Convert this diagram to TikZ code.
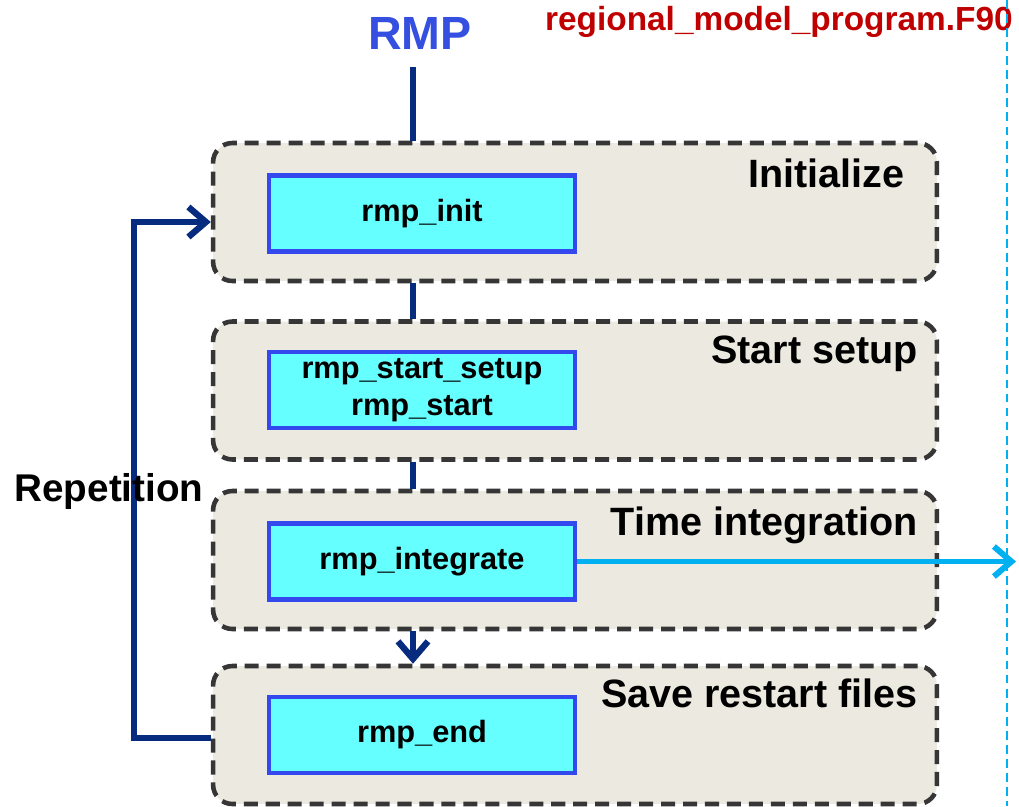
\documentclass[tikz,border=0pt]{standalone}
\usepackage{fontspec}
\setmainfont{Liberation Sans}
\usetikzlibrary{arrows.meta,positioning,calc}
\definecolor{stagefill}{HTML}{ECEAE0}
\definecolor{stageline}{HTML}{363636}
\definecolor{subfill}{HTML}{66FFFF}
\definecolor{subline}{HTML}{3349EE}
\definecolor{navyflow}{HTML}{072B7E}
\definecolor{skyflow}{HTML}{00B0F0}
\definecolor{rmpblue}{HTML}{3550E0}
\definecolor{filered}{HTML}{C00000}
\tikzset{
  stage/.style={draw=stageline, fill=stagefill, rounded corners=11pt, dash pattern=on 8pt off 4.5pt, line width=2.6pt, minimum width=14.48cm, minimum height=2.76cm},
  sub/.style={draw=subline, fill=subfill, line width=2.4pt, minimum width=6.12cm, minimum height=1.52cm, align=center, font=\bfseries\fontsize{17.5}{21}\selectfont},
  ttl/.style={font=\bfseries\fontsize{22.5}{24}\selectfont, anchor=north east, inner sep=0pt},
  flow/.style={navyflow, line width=3.6pt},
  farr/.style={navyflow, line width=3.6pt, -{Straight Barb[length=3.5mm, width=6mm]}},
  outarr/.style={skyflow, line width=3.4pt, -{Straight Barb[length=3.5mm, width=6mm]}},
}
\begin{document}
\begin{tikzpicture}[x=0.02cm,y=-0.02cm]
\useasboundingbox (0,0) rectangle (1019,806);
\fill[white] (0,0) rectangle (1019,806);
\node[font=\bfseries\fontsize{26.5}{30}\selectfont, text=rmpblue, inner sep=0pt] (rmp) at (420,33) {RMP};
\node[font=\bfseries\fontsize{19}{22}\selectfont, text=filered, anchor=east, inner sep=0pt] (file) at (1013,22) {regional\_model\_program.F90};
\draw[skyflow, line width=1.4pt, dash pattern=on 5pt off 3pt] (1007,0) -- (1007,806);
% stages
\node[stage] (init) at (575,212) {};
\node[stage] (setup) at (575,390.5) {};
\node[stage] (integ) at (575,560) {};
\node[stage] (save) at (575,735) {};
\node[ttl] at (905,158) {Initialize};
\node[ttl] at (918,336) {Start setup};
\node[ttl] at (918,506) {Time integration};
\node[ttl] at (918,678) {Save restart files};
\node[sub] (rinit) at (422,213.5) {\raisebox{-2pt}{rmp\_init}};
\node[sub] (rstart) at (422,390) {rmp\_start\_setup\\rmp\_start};
\node[sub] (rinteg) at (422,561.5) {\raisebox{-2pt}{rmp\_integrate}};
\node[sub] (rend) at (422,735) {\raisebox{-2pt}{rmp\_end}};
\coordinate (spine) at (413,0);
\coordinate (rightend) at (1016,0);
% connectors
\draw[flow] (spine |- rmp.south) ++(0,18) -- (spine |- init.north);
\draw[flow] (spine |- init.south) -- (spine |- setup.north);
\draw[flow] (spine |- setup.south) -- (spine |- integ.north);
\draw[farr] (spine |- integ.south) -- (spine |- save.north);
\draw[outarr] (rinteg.east) -- (rinteg.east -| rightend);
\draw[farr] ([yshift=-0.06cm]save.west) -- ++(-77,0) |- ([yshift=-0.2cm]init.west);
\node[font=\bfseries\fontsize{22}{24}\selectfont, inner sep=0pt] (rep) at (109,491) {Repetition};
\end{tikzpicture}
\end{document}
